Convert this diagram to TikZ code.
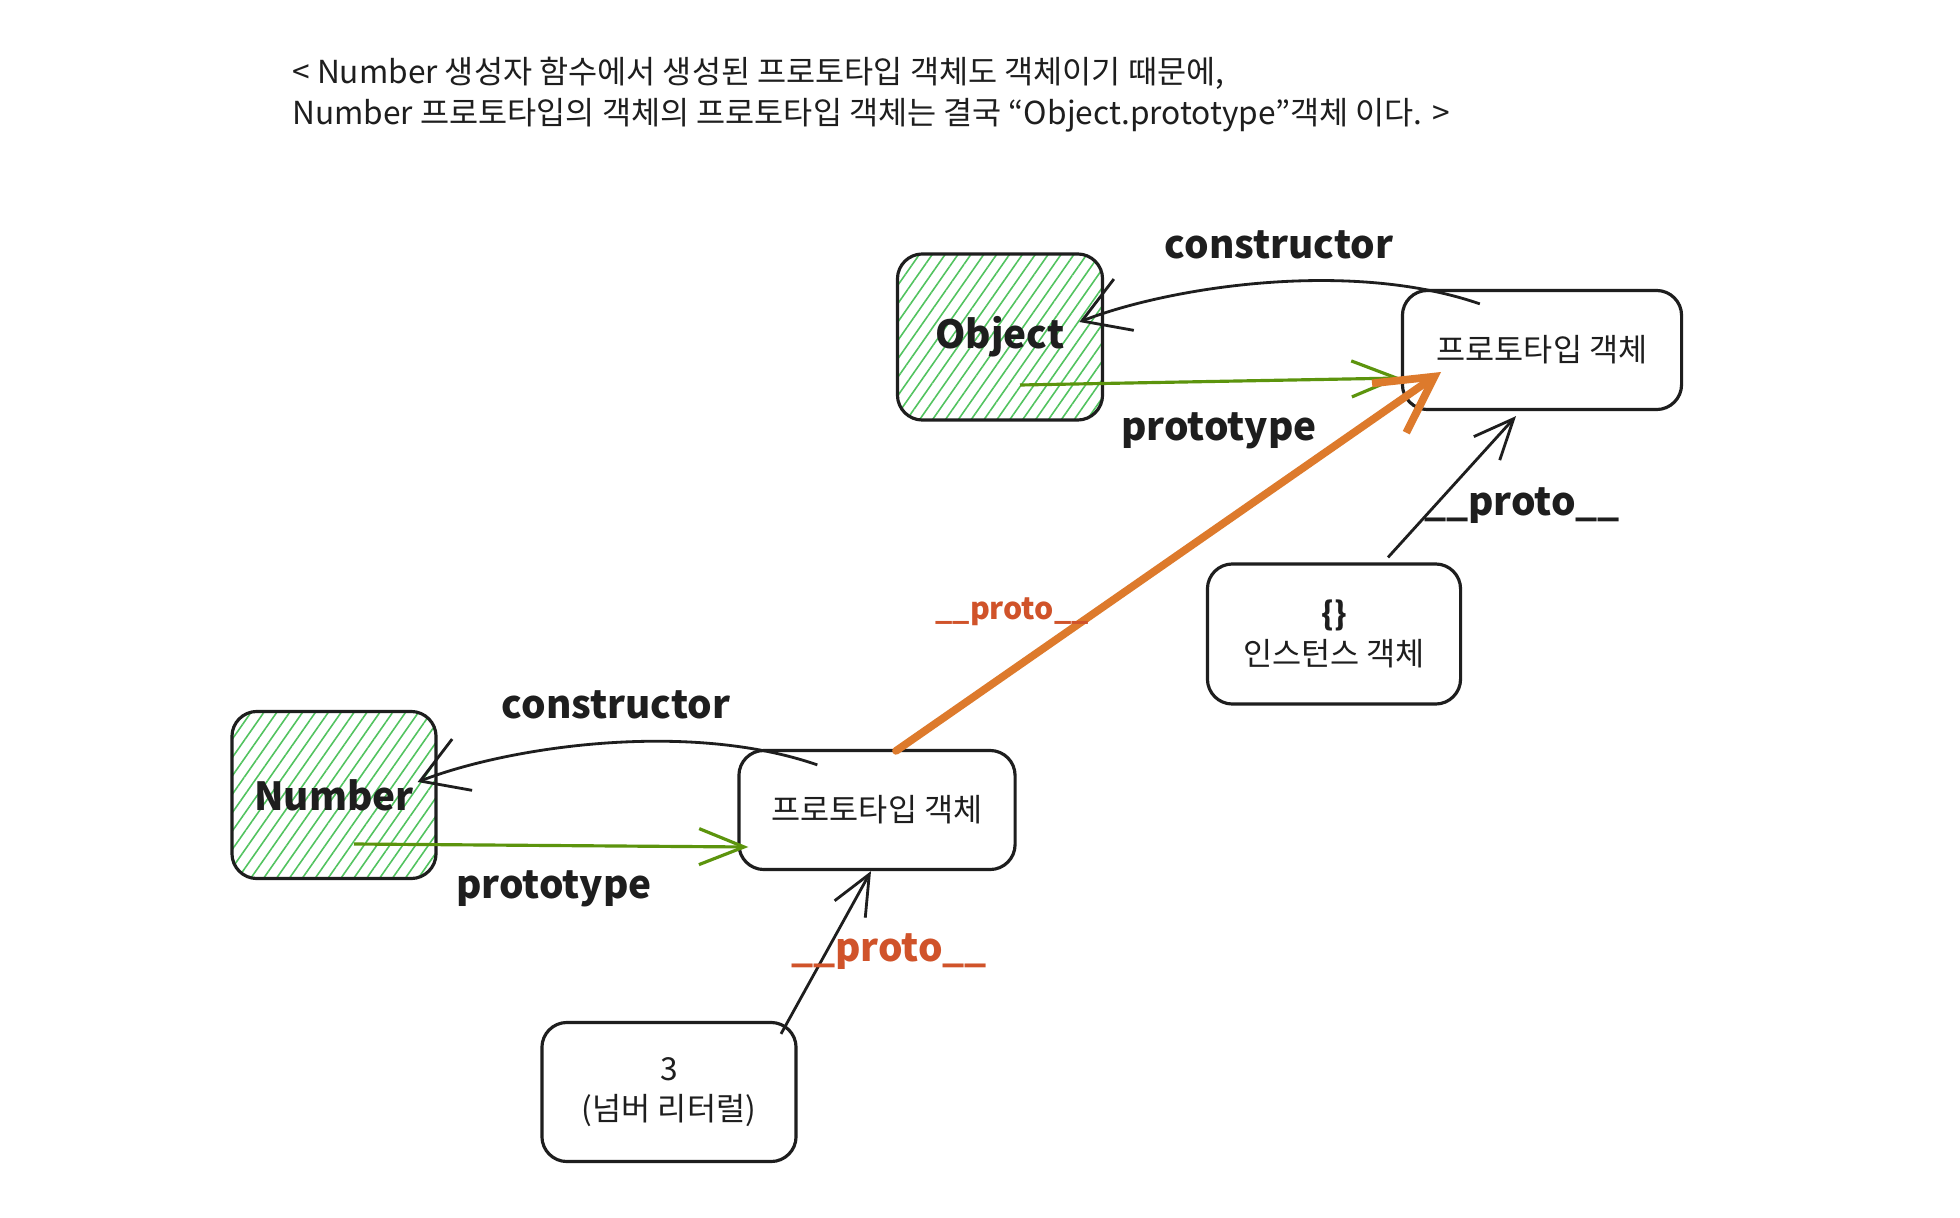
\documentclass[tikz,border=0pt]{standalone}
\usepackage{fontspec}
\setmainfont{Noto Sans CJK KR}
\usetikzlibrary{arrows.meta,positioning,calc,patterns.meta}
\definecolor{Ink}{HTML}{1E1E1E}
\definecolor{Leaf}{HTML}{5C940D}
\definecolor{Hatch}{HTML}{51C35F}
\definecolor{Amber}{HTML}{DD7A2C}
\definecolor{Rust}{HTML}{D0532A}
\tikzset{box/.style={draw=Ink,line width=.9pt,rounded corners=2.5mm,align=center,font=\fontsize{9}{11.6}\selectfont,text=Ink},
hatchbox/.style={box,pattern={Lines[angle=55,distance=3pt,line width=.45pt]},pattern color=Hatch,font=\fontsize{11}{13}\selectfont\bfseries},
ctor/.style={-{Straight Barb[length=4.5mm,width=5.5mm]},line width=.8pt,draw=Ink},
protoflow/.style={-{Straight Barb[length=4.5mm,width=3.6mm]},line width=.9pt,draw=Leaf},
link/.style={-{Straight Barb[length=4mm,width=3.5mm]},line width=.8pt,draw=Ink},
chain/.style={-{Straight Barb[length=5.5mm,width=6mm]},line width=2.2pt,draw=Amber,line cap=round},
lab/.style={font=\fontsize{11}{13}\selectfont\bfseries,text=Ink}}

\begin{document}
\begin{tikzpicture}[x=0.01cm,y=-0.01cm]
\useasboundingbox[fill=white] (0,0) rectangle (1960,1218);
\node[anchor=west,align=left,text=Ink,font=\fontsize{9}{11.6}\selectfont] (note) at (280,95) {< Number 생성자 함수에서 생성된 프로토타입 객체도 객체이기 때문에,\\Number 프로토타입의 객체의 프로토타입 객체는 결국 “Object.prototype”객체 이다. >};
% boxes
\node[hatchbox,minimum width=2.05cm,minimum height=1.66cm] (obj) at (1000,337) {Object};
\node[box,minimum width=2.79cm,minimum height=1.19cm] (objproto) at (1542,350) {프로토타입 객체};
\node[hatchbox,minimum width=2.04cm,minimum height=1.67cm] (num) at (334,795) {Number};
\node[box,minimum width=2.76cm,minimum height=1.19cm] (numproto) at (877,810) {프로토타입 객체};
\node[box,minimum width=2.53cm,minimum height=1.40cm] (inst) at (1334,634) {\textbf{\{\}}\\인스턴스 객체};
\node[box,minimum width=2.54cm,minimum height=1.39cm] (three) at (669,1092) {3\\(넘버 리터럴)};
% links
\draw[ctor] ($(objproto.north west)+(79,15)$) .. controls +(-130,-45) and +(90,-35) .. ($(obj.east)+(-24,-15)$);
\draw[protoflow] ($(obj.center)+(20,48)$) -- ($(objproto.west)+(0,28)$);
\draw[ctor] ($(numproto.north west)+(80,16)$) .. controls +(-130,-45) and +(90,-35) .. ($(num.east)+(-20,-13)$);
\draw[protoflow] ($(num.center)+(20,49)$) -- ($(numproto.west)+(11,37)$);
\draw[chain] ($(numproto.north)+(19,2)$) -- ($(objproto.center)+(-101,22)$);
\draw[link] ($(inst.north)+(54,-5)$) -- ($(objproto.south)+(-26,5)$);
\draw[link] ($(three.north)+(112,13)$) -- ($(numproto.south)+(-6,0)$);
% labels
\node[lab] (ctortop) at (1279,245) {constructor};
\node[lab] (prototop) at (1219,431) {prototype};
\node[lab] (linktop) at (1522,506) {\_\_proto\_\_};
\node[lab,text=Rust,font=\fontsize{8.6}{10}\selectfont\bfseries] (chainlab) at (1012,612) {\_\_proto\_\_};
\node[lab] (ctorbot) at (616,705) {constructor};
\node[lab] (protobot) at (554,889) {prototype};
\node[lab,text=Rust] (linkbot) at (889,952) {\_\_proto\_\_};
\end{tikzpicture}
\end{document}
